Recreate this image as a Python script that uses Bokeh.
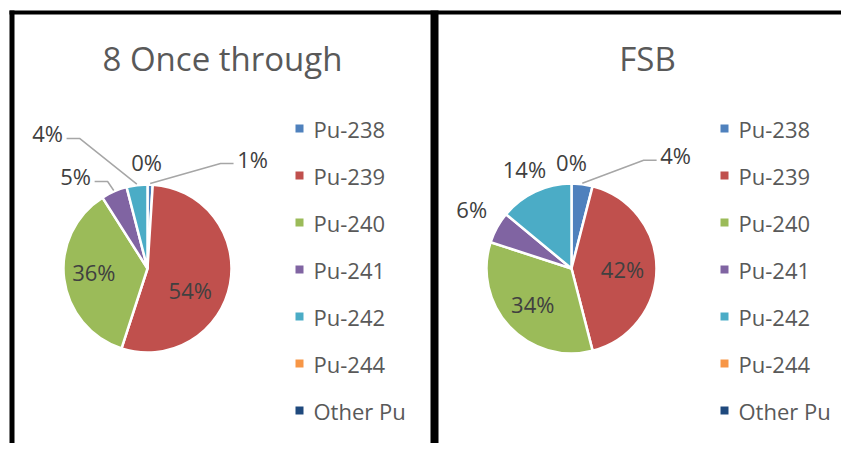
import math
from bokeh.plotting import figure
from bokeh.models import Range1d, ColumnDataSource
from bokeh.core.properties import value
from bokeh.embed import file_html
from bokeh.resources import INLINE

# ---------------- data ----------------
isotopes = ["Pu-238", "Pu-239", "Pu-240", "Pu-241", "Pu-242", "Pu-244", "Other Pu"]
colors = ["#4f81bd", "#c0504d", "#9bbb59", "#8064a2", "#4bacc6", "#f79646", "#1f497d"]
once_through = [1, 54, 36, 5, 4, 0, 0]
fsb = [4, 42, 34, 6, 14, 0, 0]
titles = ["8 Once through", "FSB"]

# ---------------- layout (screen px) ----------------
W, H = 841, 443
FONT = value("Open Sans")
TEXT_GREY = "#595959"
LABEL_GREY = "#404040"

def Y(s):  # screen y -> data y
    return H - s

# per-slice label placement: (distance as multiple of radius, angle nudge deg, leader, shown)
panels = [
    dict(values=once_through, title=titles[0], title_x=222, cx=147, cy=268, r=84, legend_x=299,
         labels=[(1.81, 41.9, True, True), (0.57, 16.0, False, True), (0.64, 3.0, False, True),
                 (1.39, -14.6, True, True), (2.0, -29.3, True, True), (1.27, -0.5, False, True),
                 (1.27, -0.5, False, False)]),
    dict(values=fsb, title=titles[1], title_x=647, cx=571, cy=268, r=85, legend_x=724,
         labels=[(1.81, 35.4, True, True), (0.60, 1.0, False, True), (0.62, 0.5, False, True),
                 (1.37, 2.2, False, True), (1.30, 0.0, False, True), (1.25, 0.0, False, True),
                 (1.25, 0.0, False, False)]),
]
legend_y0, legend_dy = 128, 47

p = figure(width=W, height=H, output_backend="svg", toolbar_location=None,
           x_range=Range1d(0, W), y_range=Range1d(0, H),
           x_axis_location=None, y_axis_location=None, min_border=0,
           background_fill_color="white", border_fill_color="white")
p.outline_line_color = None
p.grid.visible = False

# frame borders of the two panels
p.segment(x0=[11.5], y0=[Y(10)], x1=[11.5], y1=[Y(451)], line_color="black", line_width=5)
p.segment(x0=[9], y0=[Y(12)], x1=[849], y1=[Y(12)], line_color="black", line_width=4)
p.segment(x0=[434], y0=[Y(10)], x1=[434], y1=[Y(451)], line_color="black", line_width=8)

for pan in panels:
    vals = pan["values"]
    total = float(sum(vals))
    cx, cy, r = pan["cx"], Y(pan["cy"]), pan["r"]
    cum = 0.0
    wedge = dict(x=[], y=[], start=[], end=[], color=[])
    lab = dict(x=[], y=[], text=[])
    lead_xs, lead_ys = [], []
    for i, v in enumerate(vals):
        c0, c1 = cum, cum + v
        cum = c1
        a_start = math.pi / 2 - 2 * math.pi * c1 / total
        a_end = math.pi / 2 - 2 * math.pi * c0 / total
        if v > 0:
            wedge["x"].append(cx); wedge["y"].append(cy)
            wedge["start"].append(a_start); wedge["end"].append(a_end)
            wedge["color"].append(colors[i])
        dist, nudge, leader, shown = pan["labels"][i]
        if not shown:
            continue
        mid_cw = 360.0 * (c0 + c1) / 2 / total  # clockwise from top, degrees
        th = math.radians(mid_cw + nudge)
        lx = cx + dist * r * math.sin(th)
        ly = cy + dist * r * math.cos(th)
        lab["x"].append(lx); lab["y"].append(ly)
        lab["text"].append(f"{round(v / total * 100)}%")
        if leader:
            side = -1 if lx > cx else 1
            sx0 = lx + side * 19
            sy0 = ly - 5
            sx1 = sx0 + side * 13
            tm = math.radians(mid_cw)
            ex = cx + (r + 1) * math.sin(tm)
            ey = cy + (r + 1) * math.cos(tm)
            lead_xs.append([sx0, sx1, ex]); lead_ys.append([sy0, sy0, ey])
    p.wedge(x="x", y="y", radius=r, start_angle="start", end_angle="end",
            fill_color="color", line_color="white", line_width=2.5,
            source=ColumnDataSource(wedge))
    if lead_xs:
        p.multi_line(xs=lead_xs, ys=lead_ys, line_color="#a6a6a6", line_width=1.5)
    p.text(x="x", y="y", text="text", source=ColumnDataSource(lab),
           text_align="center", text_baseline="middle", text_font=FONT,
           text_font_size="22px", text_color=LABEL_GREY)
    # title
    p.text(x=[pan["title_x"]], y=[Y(58)], text=[pan["title"]], text_align="center",
           text_baseline="middle", text_font=FONT, text_font_size="33px", text_color=TEXT_GREY)
    # legend
    lx = pan["legend_x"]
    ys = [Y(legend_y0 + legend_dy * k) for k in range(len(isotopes))]
    p.rect(x=[lx] * len(isotopes), y=ys, width=8, height=8, width_units="screen",
           height_units="screen", fill_color=colors, line_color=None)
    p.text(x=[lx + 14] * len(isotopes), y=ys, text=isotopes, text_align="left",
           text_baseline="middle", text_font=FONT, text_font_size="22px", text_color=TEXT_GREY)

open("out.html", "w").write(file_html(p, INLINE))
